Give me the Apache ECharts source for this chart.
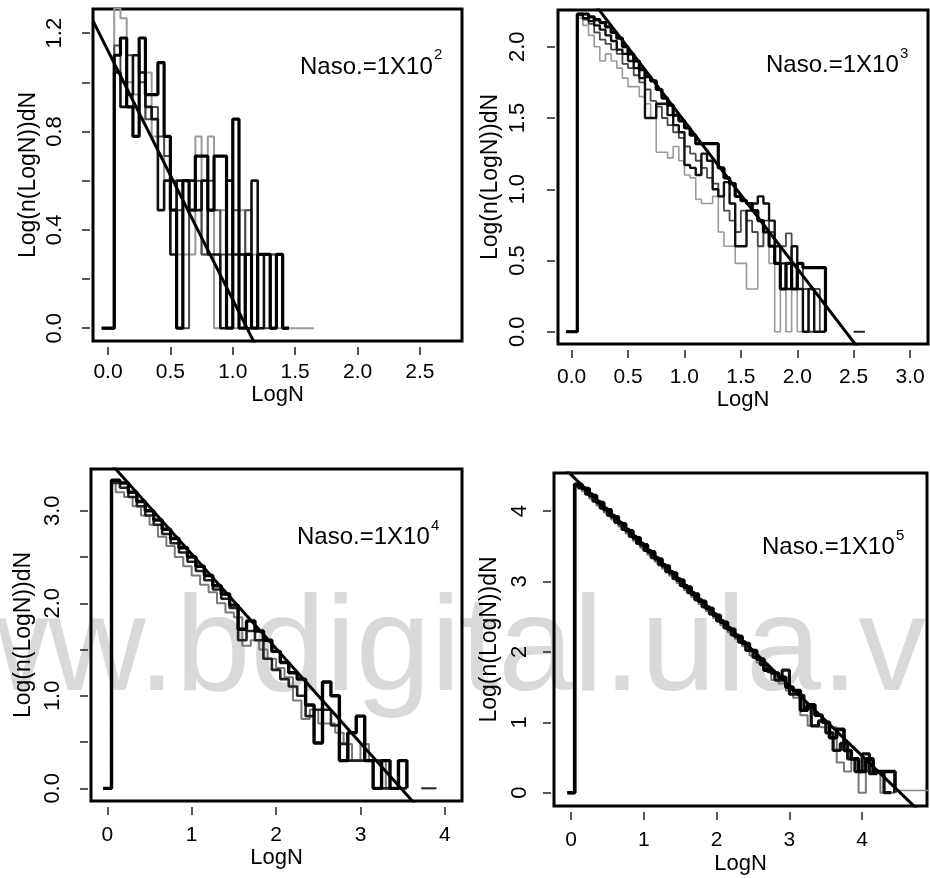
<!DOCTYPE html>
<html><head><meta charset="utf-8">
<script src="https://cdn.jsdelivr.net/npm/echarts@6/dist/echarts.min.js"></script>
<style>html,body{margin:0;padding:0;background:#fff}#c{width:930px;height:878px}</style>
</head><body><div id="c"></div>
<script>
// ---------- Panel 1 : Naso = 1X10^2 ----------
const xs1 = [-0.05,0.05,0.10,0.15,0.20,0.25,0.30,0.35,0.40,0.45,0.50,0.55,0.60,0.65,0.70,0.75,0.80,0.85,0.90,0.95,1.00,1.05,1.10,1.15,1.20,1.25,1.30,1.35,1.40,1.45,1.50,1.55,1.60,1.65];
const p1A = [0, 1.11,1.18,0.90,0.78,1.18,0.95,0.95,1.08,0.78,0.48, 0,0.60,0.48,0.70,0.70,0.48,0.70,0.70,0,0.85, 0,0.30,0,0.30,0.30,0,0.30,0, null,null,null,null,null];
const p1B = [0, 1.30,1.26,1.00,0.95,0.85,1.04,0.78,0.70,0.60,0.48, 0.30,0.30,0.30,0.78,0.30,0.78,0,0.48,0.30,0, 0.48,0,0.30,0,0.30,0.30,0,0,0,0,0,0, 0];
const p1C = [0, 1.04,0.90,0.95,1.11,1.04,0.90,0.85,0.48,0.60,0.30, 0.60,0.60,0.60,0.48,0.60,0.30,0.30,0,0.60,0.30, 0.30,0,0.60,0,0.30,0,0.30,0, null,null,null,null,null];
const p1D = [0, 1.15,1.00,1.11,0.90,1.00,0.85,0.90,0.78,0.70,0.60, 0.48,0,0.60,0.60,0.30,0.60,0.48,0.30,0.30,0.48, 0.30,0.48,0,0.30,0,0.30,0.30,0, null,null,null,null,null];

// ---------- Panel 2 : Naso = 1X10^3 ----------
const xs2 = [-0.05,0.05,0.10,0.15,0.20,0.25,0.30,0.35,0.40,0.45,0.50,0.55,0.60,0.65,0.70,0.75,0.80,0.85,0.90,0.95,1.00,1.05,1.10,1.15,1.20,1.25,1.30,1.35,1.40,1.45,1.50,1.55,1.60,1.65,1.70,1.75,1.80,1.85,1.90,1.95,2.00,2.05,2.10,2.15,2.20,2.25];
const p2A = [0, 2.23,2.23,2.21,2.19,2.17,2.14,2.10,2.06,2.00,1.95, 1.90,1.84,1.79,1.76,1.70,1.64,1.59,1.52,1.48,1.43, 1.38,1.32,1.32,1.32,1.32,1.15,1.08,1.04,0.95,0.92, 0.90,0.85,0.78,0.70,0.60,0.48,0.30,0.48,0.30,0.48, 0.45,0.45,0.45,0.45, 0];
const p2B = [0, 2.20,2.15,2.08,2.00,1.90,1.95,1.90,1.85,1.78,1.72, 1.72,1.65,1.60,1.50,1.26,1.26,1.22,1.30,1.20,1.10, 1.08,0.93,0.90,0.90,0.95,0.70,0.60,0.60,0.48,0.48, 0.30,0.30,0.60,0.70,0.48,0,0.30,0,0.30,0, 0.30,0,0,0, 0];
const p2C = [0, 2.23,2.20,2.18,2.15,2.12,2.08,2.04,1.98,1.95,1.90, 1.85,1.78,1.50,1.50,1.60,1.60,1.52,1.45,1.40,1.17, 1.15,1.10,1.25,1.20,1.00,0.95,1.05,0.90,0.60,0.60, 0.85,0.90,0.95,0.90,0.78,0.60,0.48,0.30,0.60,0.30, 0,0.30,0,0, 0];
const p2D = [0, 2.22,2.19,2.16,2.10,2.05,2.02,1.98,1.95,1.88,1.85, 1.80,1.75,1.70,1.62,1.58,1.50,1.45,1.40,1.36,1.30, 1.25,1.20,1.15,1.08,1.04,0.95,0.85,0.78,0.70,0.85, 0.78,0.70,0.60,0.78,0.70,0.48,0.60,0.69,0.30,0.48, 0.30,0,0.30,0, 0];
const tail2X = [2.50, 2.60], tail2Y = [0, 0];

// ---------- Panel 3 : Naso = 1X10^4 ----------
const xs3a = [-0.05,0.05,0.15,0.25,0.35,0.45,0.55,0.65,0.75,0.85,0.95,1.05,1.15,1.25,1.35,1.45,1.55,1.65,1.75,1.85,1.95,2.05,2.15,2.25,2.35,2.45,2.55,2.65,2.75,2.85,2.95,3.05,3.15,3.25,3.35,3.45,3.55];
const xs3b = [-0.05,0.05,0.10,0.20,0.30,0.40,0.50,0.60,0.70,0.80,0.90,1.00,1.10,1.20,1.30,1.40,1.50,1.60,1.70,1.80,1.90,2.00,2.10,2.20,2.30,2.40,2.50,2.60,2.70,2.80,2.90,3.00,3.10,3.20,3.30,3.40];
const p3A = [0, 3.33,3.30,3.20,3.10,3.00,2.90,2.80,2.70,2.60,2.50, 2.40,2.30,2.19,2.10,1.98,1.72,1.81,1.70,1.60,1.48, 1.36,1.25,1.18,0.90,0.49,1.15,1.00,0.30,0.60,0.78, 0.30,0,0.30,0,0.30, 0];
const p3B = [0, 3.33, 3.20,3.15,3.05,2.95,2.85,2.72,2.62,2.50,2.40,2.30, 2.20,2.12,2.00,1.90,1.85,1.54,1.60,1.50,1.40,1.30, 1.20,0.95,0.75,0.85,0.70,0.70,0.60,0.48,0.30,0.48, 0.30,0.30,0, 0];
const p3C = [0, 3.30,3.25,3.15,3.05,2.95,2.85,2.75,2.65,2.55,2.45, 2.35,2.25,2.15,2.05,1.95,1.60,1.70,1.60,1.40,1.28, 1.18,1.10,1.00,0.78,0.85,0.85,0.68,0.48,0.30,0.30, 0.30,0.30,0,0,0, 0];
const tail3X = [3.72, 3.90], tail3Y = [0, 0];

// ---------- Panel 4 : Naso = 1X10^5 ----------
const xs4a = [-0.05,0.05,0.15,0.25,0.35,0.45,0.55,0.65,0.75,0.85,0.95,1.05,1.15,1.25,1.35,1.45,1.55,1.65,1.75,1.85,1.95,2.05,2.15,2.25,2.35,2.45,2.55,2.65,2.75,2.85,2.95,3.05,3.15,3.25,3.35,3.45,3.55,3.65,3.75,3.85,3.95,4.05,4.15,4.25,4.35,4.45];
const xs4b = [-0.05,0.05,0.10,0.20,0.30,0.40,0.50,0.60,0.70,0.80,0.90,1.00,1.10,1.20,1.30,1.40,1.50,1.60,1.70,1.80,1.90,2.00,2.10,2.20,2.30,2.40,2.50,2.60,2.70,2.80,2.90,3.00,3.10,3.20,3.30,3.40,3.50,3.60,3.70,3.80,3.90,4.00,4.10,4.20,4.30,4.40];
const p4A = [0, 4.38,4.32,4.22,4.12,4.02,3.92,3.82,3.72,3.62,3.52, 3.42,3.32,3.22,3.12,3.02,2.92,2.82,2.72,2.62,2.52, 2.42,2.32,2.22,2.12,2.02,1.90,1.74,1.70,1.64,1.50, 1.45,1.17,1.25,1.10,1.00,0.78,0.90,0.60,0.48,0.30, 0.48,0.30,0.30,0.30, 0];
const p4B = [0, 4.38, 4.33,4.24,4.14,4.04,3.94,3.84,3.74,3.64,3.54,3.44, 3.34,3.24,3.14,3.04,2.94,2.84,2.74,2.64,2.54,2.44, 2.34,2.24,2.14,2.02,1.92,1.82,1.72,1.60,1.74,1.40, 1.38,1.20,0.95,1.02,0.85,0.60,0.70,0.48,0.30,0.55, 0.27,0.30,0, 0];
const p4C = [0, 4.35, 4.28,4.18,4.08,3.98,3.88,3.78,3.68,3.58,3.48, 3.38,3.28,3.18,3.08,2.98,2.88,2.78,2.68,2.58,2.48, 2.38,2.28,2.18,2.08,1.95,1.85,1.75,1.60,1.55,1.45, 1.35,1.10,0.95,0.93,0.93,0.93,0.43,0.30,0.48,0, 0.30,0.30,0, 0];
const tail4X = [4.45, 4.95], tail4Y = [0.03, 0.03];

// ---------- Fitted lines (intercept, slope) ----------
const fitIntercept = [1.128, 2.51, 3.553, 4.517];
const fitSlope = [-1.012, -1.033, -1.021, -0.999];

// ---------- Tick values / labels ----------
const xTicks1 = [0,0.5,1,1.5,2,2.5], yTicks1 = [0,0.2,0.4,0.6,0.8,1.0,1.2], yLabels1 = [0,0.4,0.8,1.2];
const xTicks2 = [0,0.5,1,1.5,2,2.5,3], yTicks2 = [0,0.5,1,1.5,2], yLabels2 = [0,0.5,1,1.5,2];
const xTicks3 = [0,1,2,3,4], yTicks3 = [0,0.5,1,1.5,2,2.5,3], yLabels3 = [0,1,2,3];
const xTicks4 = [0,1,2,3,4], yTicks4 = [0,1,2,3,4], yLabels4 = [0,1,2,3,4];
const nasoExp = ['2','3','4','5'];

// ---------- Layout & styles ----------
const FONT = '"Liberation Sans", Arial, Helvetica, sans-serif';
const BLACK = '#000', GREY = '#9a9a9a', DGREY = '#4a4a4a';
const panels = [
  {grid:{left:93,top:9,width:369,height:332}, xr:[-0.120,2.837], yr:[-0.052,1.298],
   xT:xTicks1, xL:xTicks1, yT:yTicks1, yL:yLabels1, xDec:1, yDec:1,
   xMargin:15, xNameGap:27, yMargin:24, yNameGap:50,
   runs:[[xs1,p1B,GREY,2],[xs1,p1D,DGREY,2],[xs1,p1C,'#111',2.6],[xs1,p1A,BLACK,3.2]], tail:null,
   naso:{x:300,y:67,sy:55}},
  {grid:{left:558,top:10,width:370,height:334}, xr:[-0.121,3.159], yr:[-0.086,2.258],
   xT:xTicks2, xL:xTicks2, yT:yTicks2, yL:yLabels2, xDec:1, yDec:1,
   xMargin:17, xNameGap:33, yMargin:26, yNameGap:53,
   runs:[[xs2,p2B,GREY,1.6],[xs2,p2D,DGREY,1.8],[xs2,p2C,'#111',2.4],[xs2,p2A,BLACK,3.2]], tail:[tail2X,tail2Y,'#222',2],
   naso:{x:766,y:65,sy:54}},
  {grid:{left:91,top:469,width:371,height:332}, xr:[-0.193,4.203], yr:[-0.137,3.452],
   xT:xTicks3, xL:xTicks3, yT:yTicks3, yL:yLabels3, xDec:0, yDec:1,
   xMargin:18, xNameGap:39, yMargin:24, yNameGap:53,
   runs:[[xs3b,p3B,'#7a7a7a',2],[xs3a,p3C,'#222',2.6],[xs3a,p3A,BLACK,3.4]], tail:[tail3X,tail3Y,'#222',2],
   naso:{x:297,y:537,sy:526}},
  {grid:{left:554,top:473,width:373,height:333}, xr:[-0.234,4.89], yr:[-0.189,4.541],
   xT:xTicks4, xL:xTicks4, yT:yTicks4, yL:yLabels4, xDec:0, yDec:0,
   xMargin:18, xNameGap:41, yMargin:20, yNameGap:50,
   runs:[[xs4a,p4C,'#777',2],[xs4b,p4B,'#111',3.2],[xs4a,p4A,BLACK,3.6]], tail:[tail4X,tail4Y,'#888',1.5],
   naso:{x:762,y:547,sy:536}}
];

const option = {animation:false, backgroundColor:'#fff', grid:[], xAxis:[], yAxis:[], series:[], graphic:[]};

option.graphic.push({type:'text', x:-147, y:653, z:-10, silent:true,
  style:{text:'www.bdigital.ula.ve', fontSize:135, fontFamily:FONT, fill:'#d9d9d9', align:'left', verticalAlign:'middle'}});

panels.forEach((p, i) => {
  option.grid.push(Object.assign({show:true, borderColor:'#000', borderWidth:3, backgroundColor:'rgba(0,0,0,0)'}, p.grid));
  option.xAxis.push({type:'value', gridIndex:i, min:p.xr[0], max:p.xr[1], offset:6,
    axisLine:{show:false, onZero:false},
    axisTick:{show:true, customValues:p.xT, length:8, lineStyle:{color:'#222', width:1.5}},
    axisLabel:{customValues:p.xL, formatter:v => Number(v).toFixed(p.xDec), margin:p.xMargin, fontSize:21, color:'#000', fontFamily:FONT},
    splitLine:{show:false},
    name:'LogN', nameLocation:'middle', nameGap:p.xNameGap, nameTextStyle:{fontSize:22, color:'#000', fontFamily:FONT}});
  option.yAxis.push({type:'value', gridIndex:i, min:p.yr[0], max:p.yr[1], offset:3,
    axisLine:{show:false, onZero:false},
    axisTick:{show:true, customValues:p.yT, length:8, lineStyle:{color:'#222', width:1.5}},
    axisLabel:{customValues:p.yL, formatter:v => Number(v).toFixed(p.yDec), rotate:90, margin:p.yMargin, fontSize:22, color:'#000', fontFamily:FONT},
    splitLine:{show:false},
    name:'Log(n(LogN))dN', nameLocation:'middle', nameGap:p.yNameGap, nameTextStyle:{fontSize:23, color:'#000', fontFamily:FONT}});
  p.runs.forEach(r => {
    option.series.push({type:'line', xAxisIndex:i, yAxisIndex:i, step:'end', symbol:'none', showSymbol:false,
      connectNulls:false, clip:true, lineStyle:{color:r[2], width:r[3]},
      data:r[0].map((x,k) => [x, r[1][k]])});
  });
  if (p.tail) {
    option.series.push({type:'line', xAxisIndex:i, yAxisIndex:i, symbol:'none', clip:true,
      lineStyle:{color:p.tail[2], width:p.tail[3]}, data:p.tail[0].map((x,k) => [x, p.tail[1][k]])});
  }
  const a = fitIntercept[i], b = fitSlope[i];
  option.series.push({type:'line', xAxisIndex:i, yAxisIndex:i, symbol:'none', clip:true, z:5,
    lineStyle:{color:'#000', width:3},
    data:[[p.xr[0], a + b*p.xr[0]], [p.xr[1], a + b*p.xr[1]]]});
  option.graphic.push({type:'text', x:p.naso.x, y:p.naso.y, z:10,
    style:{text:'Naso.=1X10', fontSize:24, fontFamily:FONT, fill:'#000', align:'left', verticalAlign:'middle'}});
  option.graphic.push({type:'text', x:p.naso.x + 134, y:p.naso.sy, z:10,
    style:{text:nasoExp[i], fontSize:15, fontFamily:FONT, fill:'#000', align:'left', verticalAlign:'middle'}});
});

const chart = echarts.init(document.getElementById('c'), null, {renderer:'canvas'});
chart.setOption(option);
</script></body></html>
